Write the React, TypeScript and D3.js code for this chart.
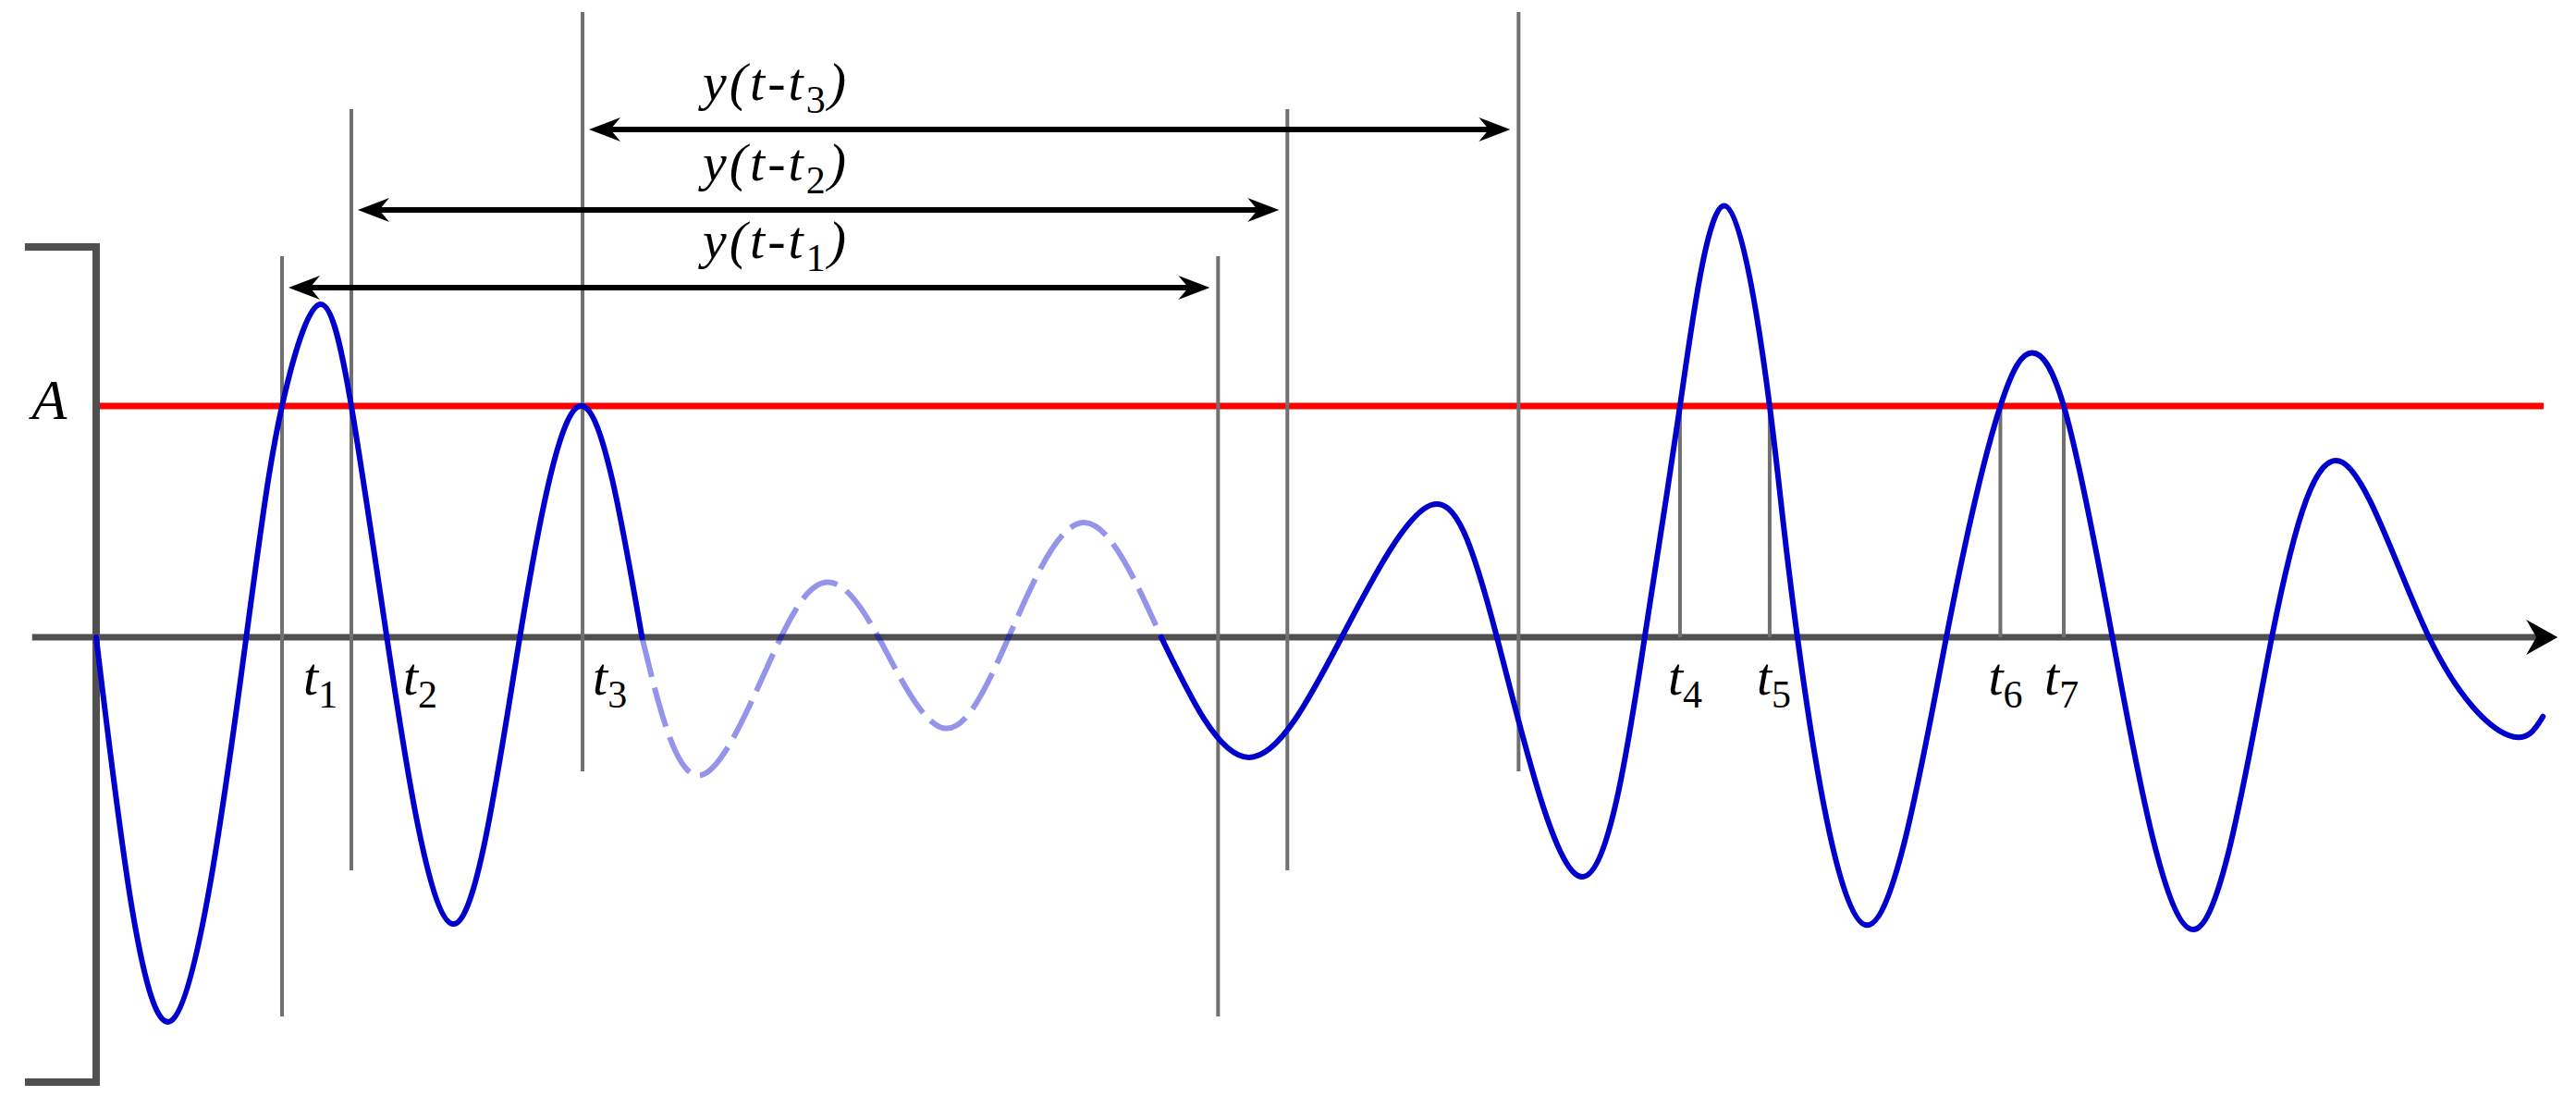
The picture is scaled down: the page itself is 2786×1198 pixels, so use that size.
import * as d3 from "d3";
import React from "react";

// waveform: time in arbitrary units, amplitude in units of the threshold A
const headT = [0, 4.54, 9.14, 11.32, 13.64, 15.54, 17.7, 21.7, 25.8, 29.62, 33.24];
const headV = [0, -1.66, 0, 1, 1.44, 1, 0, -1.24, 0, 1, 0];
const fadedT = [33.24, 36.86, 41.7, 44.8, 47.64, 51.6, 55.57, 60.1, 64.86];
const fadedV = [0, -0.596, 0, 0.236, 0, -0.393, 0, 0.496, 0];
const tailT = [64.86, 70.19, 75.85, 81.3, 85.3, 90.49, 94.3, 96.45, 99.16, 101.91, 103.6, 107.8, 112.67, 115.96, 117.9, 119.82, 122.78, 127.7, 132.49, 136.8, 142.06, 146.9, 149.0];
const tailV = [0, -0.52, 0, 0.572, 0, -1.036, 0, 1, 1.866, 1, 0, -1.245, 0, 1, 1.23, 1, 0, -1.264, 0, 0.756, 0, -0.424, -0.343];

// threshold crossings t1..t7 and the delay applied to the first three
const eventT = [11.32, 15.54, 29.62, 96.45, 101.91, 115.96, 119.82];
const eventNames = ["1", "2", "3", "4", "5", "6", "7"];
const delay = 57.0;
const threshold = 1;

// guide lines for the delayed copies (amplitude units)
const guideTop = [1.648, 2.284, 2.704];
const guideBottom = [-1.64, -1.008, -0.58];
const arrowLevel = [1.512, 1.848, 2.196];
const labelDx = [23, 56, 11, -13, -14, -13, -21];

const W = 2786;
const H = 1198;
const FONT = "'Liberation Serif', 'DejaVu Serif', serif";

function arrowHead(tipX: number, tipY: number, dir: number, L: number, h: number) {
    return `M${tipX},${tipY} L${tipX - dir * L},${tipY - h} L${tipX - dir * L * 0.68},${tipY} L${tipX - dir * L},${tipY + h} Z`;
}

const App = () => {
    const x = d3.scaleLinear().domain([0, 150]).range([104, 104 + 150 * 17.76]);
    const y = d3.scaleLinear().domain([0, 1]).range([689, 439]);

    const line = d3.line<[number, number]>()
        .x(d => x(d[0]))
        .y(d => y(d[1]))
        .curve(d3.curveNatural);

    const head = line(d3.zip(headT, headV) as [number, number][]);
    const faded = line(d3.zip(fadedT, fadedV) as [number, number][]);
    const tail = line(d3.zip(tailT, tailV) as [number, number][]);

    const axisY = y(0);
    const axisStart = x(-3.9);
    const axisTip = x(149.9);
    const gray = "#707070";
    const blue = "#0000cd";

    return (
        <svg width={W} height={H} style={{ position: "absolute", left: 0, top: 0, background: "#fff" }}>
            {/* threshold A */}
            <line x1={x(0)} x2={x(149.04)} y1={y(threshold)} y2={y(threshold)} stroke="#ff0000" strokeWidth={7} />

            {/* time axis */}
            <line x1={axisStart} x2={axisTip - 20} y1={axisY} y2={axisY} stroke="#505050" strokeWidth={7} />
            <path d={arrowHead(axisTip, axisY, 1, 34, 19)} fill="#000" />

            {/* amplitude bracket */}
            <path
                d={`M${x(-4.34)},${y(1.688)} L${x(0)},${y(1.688)} L${x(0)},${y(-1.924)} L${x(-4.34)},${y(-1.924)}`}
                fill="none" stroke="#505050" strokeWidth={8} strokeLinejoin="miter" />
            <text x={x(-2.85)} y={y(threshold) + 14} fontFamily={FONT} fontStyle="italic" fontSize={62} textAnchor="middle">A</text>

            {/* guides for t1..t3 and their delayed copies */}
            {guideTop.map((top, i) => (
                <g key={"g" + i}>
                    <line x1={x(eventT[i])} x2={x(eventT[i])} y1={y(top)} y2={y(guideBottom[i])} stroke={gray} strokeWidth={4} />
                    <line x1={x(eventT[i] + delay)} x2={x(eventT[i] + delay)} y1={y(top)} y2={y(guideBottom[i])} stroke={gray} strokeWidth={4} />
                </g>
            ))}
            {/* short markers for t4..t7 */}
            {eventT.slice(3).map((t, i) => (
                <line key={"m" + i} x1={x(t)} x2={x(t)} y1={y(threshold)} y2={axisY} stroke={gray} strokeWidth={4} />
            ))}

            {/* waveform */}
            <path d={faded!} fill="none" stroke={blue} strokeOpacity={0.42} strokeWidth={6} strokeDasharray="44 12" />
            <path d={head!} fill="none" stroke={blue} strokeWidth={6} strokeLinecap="round" />
            <path d={tail!} fill="none" stroke={blue} strokeWidth={6} strokeLinecap="round" />

            {/* delay arrows */}
            {arrowLevel.map((lv, i) => {
                const xl = x(eventT[i]) + 7;
                const xr = x(eventT[i] + delay) - 9;
                const yy = y(lv);
                return (
                    <g key={"a" + i}>
                        <line x1={xl + 15} x2={xr - 15} y1={yy} y2={yy} stroke="#000" strokeWidth={6} />
                        <path d={arrowHead(xl, yy, -1, 34, 13)} fill="#000" />
                        <path d={arrowHead(xr, yy, 1, 34, 13)} fill="#000" />
                        <text x={x(eventT[2]) + 130} y={yy - 32} fontFamily={FONT} fontStyle="italic" fontSize={58} letterSpacing={3}>
                            y(t-t<tspan dy={14} fontSize={42} fontStyle="normal">{eventNames[i]}</tspan><tspan dy={-14}>)</tspan>
                        </text>
                    </g>
                );
            })}

            {/* event labels */}
            {eventT.map((t, i) => (
                <text key={"t" + i} x={x(t) + labelDx[i]} y={axisY + 62} fontFamily={FONT} fontStyle="italic" fontSize={58}>
                    t<tspan dy={14} fontSize={42} fontStyle="normal">{eventNames[i]}</tspan>
                </text>
            ))}
        </svg>
    );
};

export default App;
